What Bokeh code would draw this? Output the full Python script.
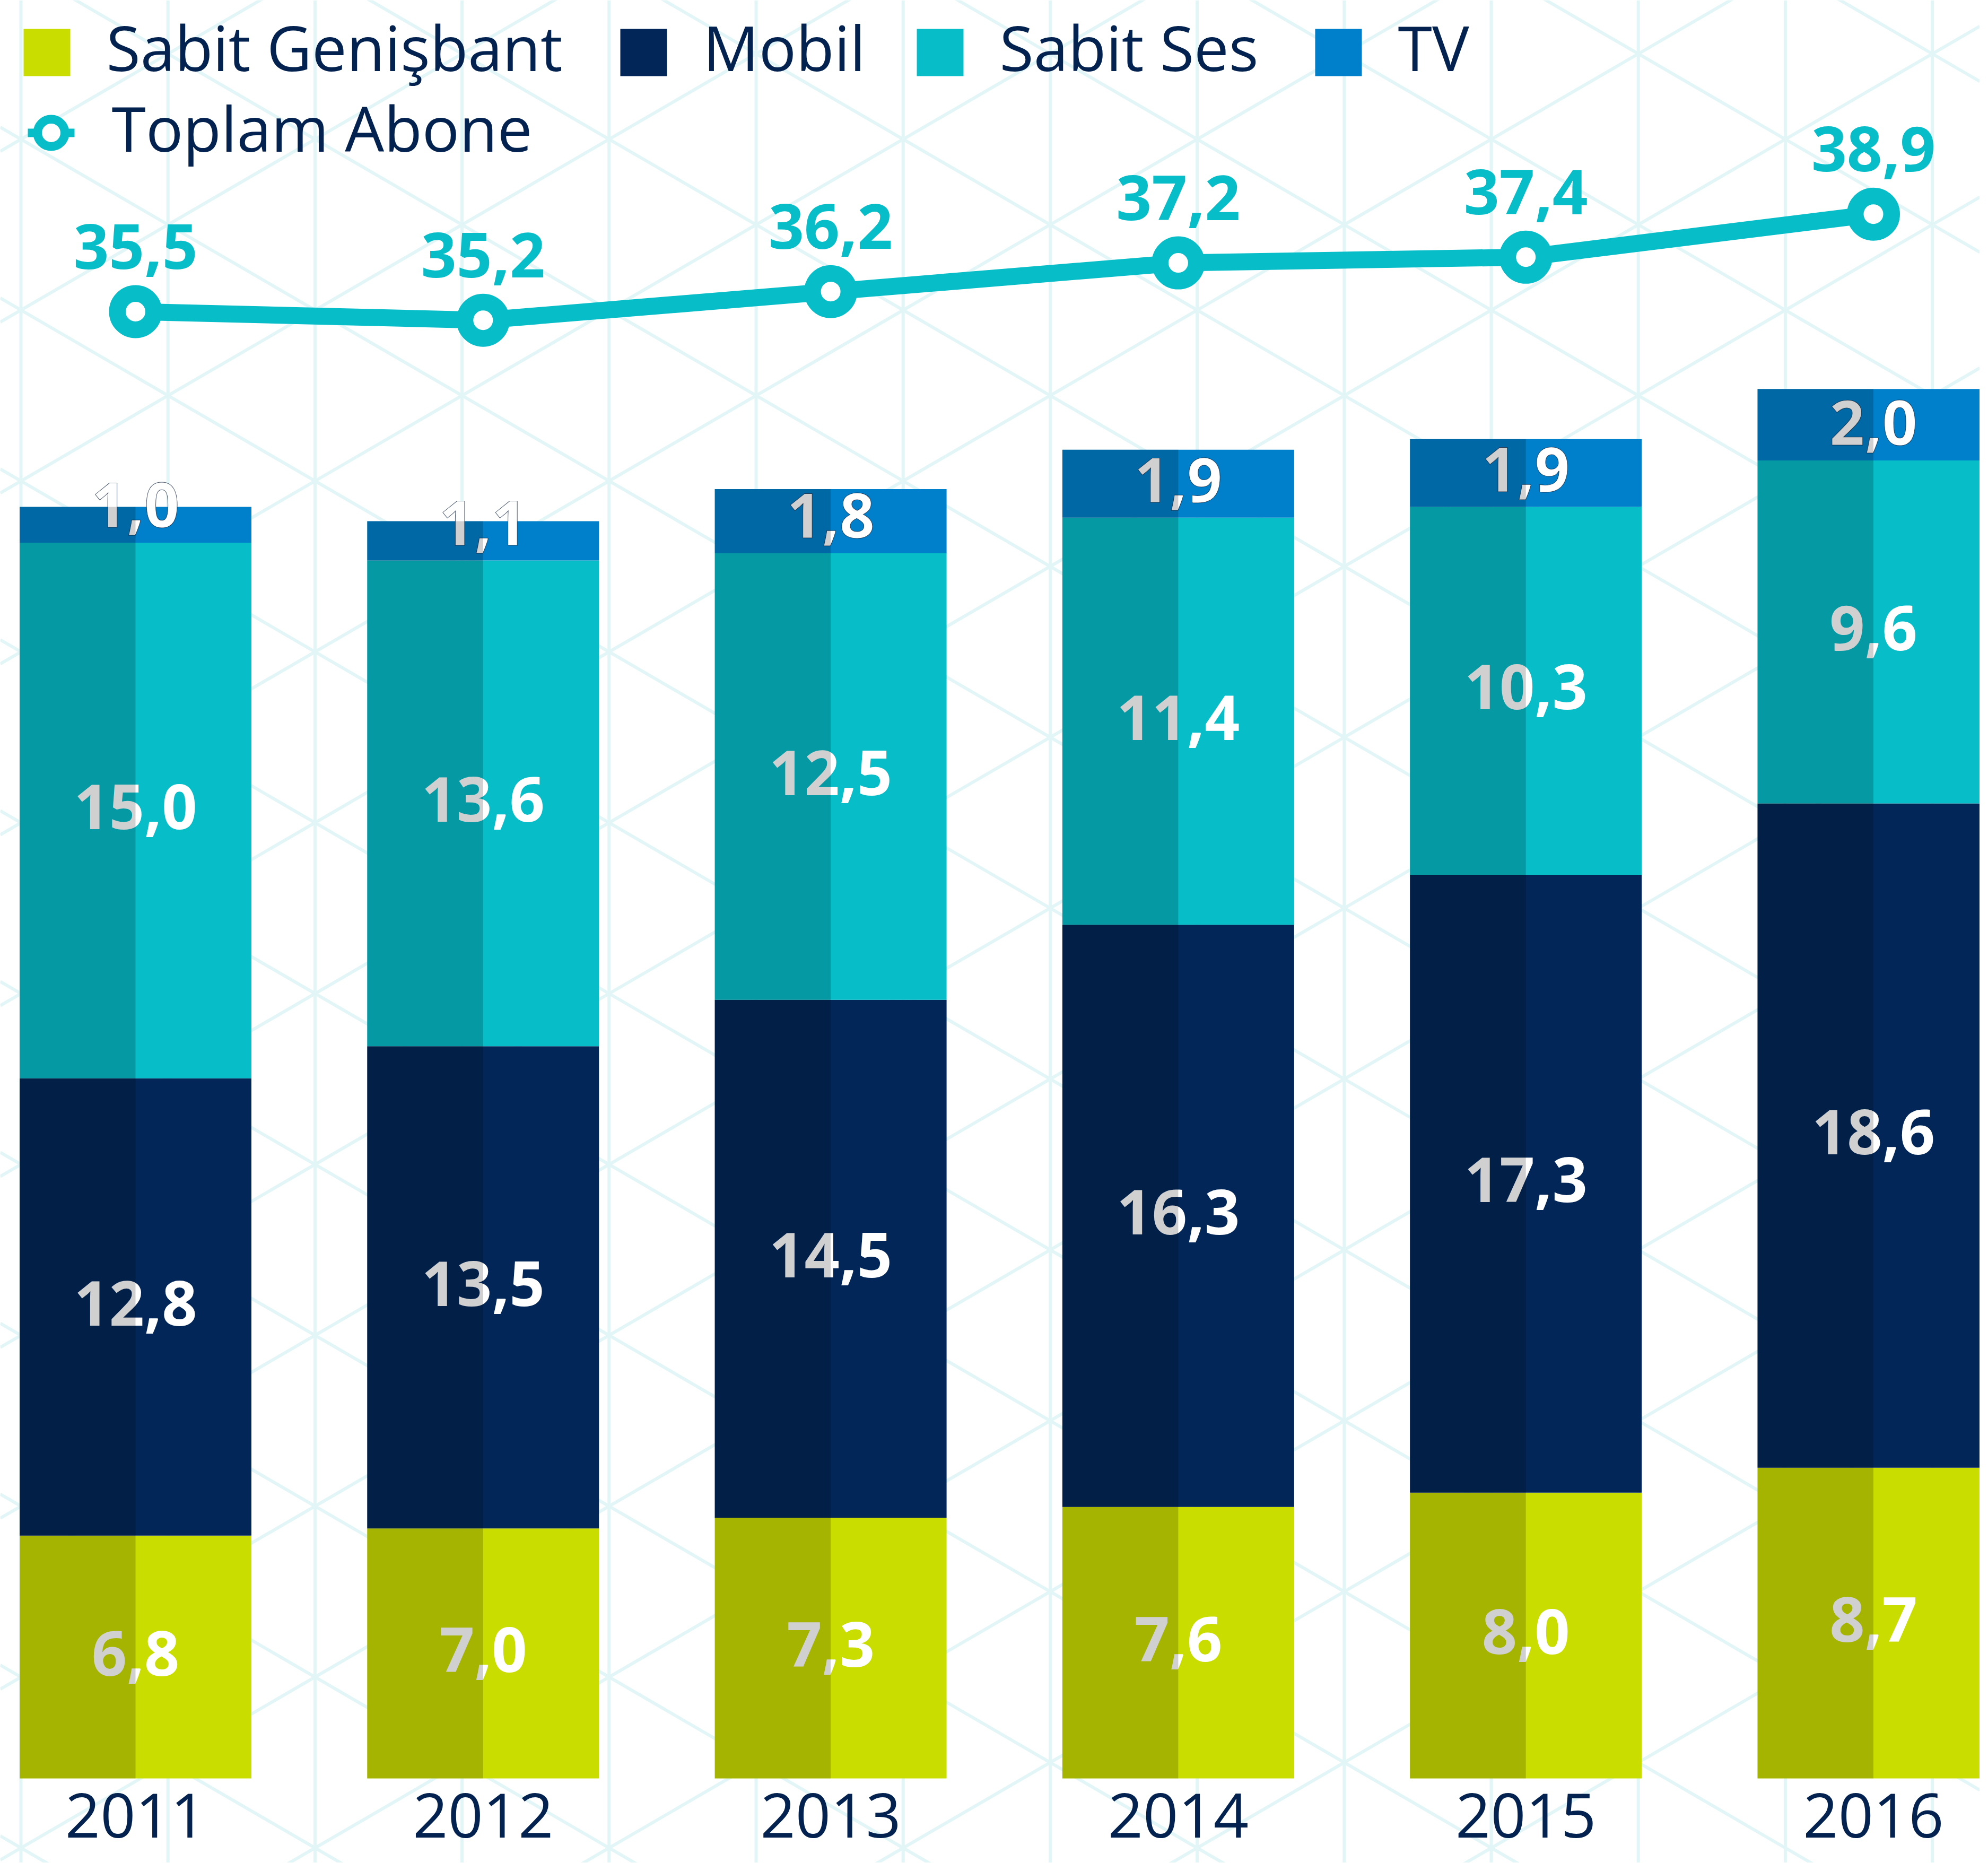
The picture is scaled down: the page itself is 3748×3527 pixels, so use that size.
import numpy as np
from bokeh.plotting import figure
from bokeh.models import Range1d, ColumnDataSource, Text
from bokeh.transform import dodge, stack
from bokeh.core.properties import value
from bokeh.embed import file_html
from bokeh.resources import INLINE

# ---------------- data ----------------
years = [2011, 2012, 2013, 2014, 2015, 2016]
year_labels = ["2011", "2012", "2013", "2014", "2015", "2016"]
sabit_genisbant = [6.8, 7.0, 7.3, 7.6, 8.0, 8.7]
mobil = [12.8, 13.5, 14.5, 16.3, 17.3, 18.6]
sabit_ses = [15.0, 13.6, 12.5, 11.4, 10.3, 9.6]
tv = [1.0, 1.1, 1.8, 1.9, 1.9, 2.0]
toplam_abone = [35.5, 35.2, 36.2, 37.2, 37.4, 38.9]

series_names = ["Sabit Genişbant", "Mobil", "Sabit Ses", "TV"]
line_name = "Toplam Abone"

# ---------------- styles ----------------
C_LIME = "#C9DD00"
C_NAVY = "#022658"
C_CYAN = "#07BDC8"
C_BLUE = "#0080CA"
C_TEXT = "#03224F"
C_GRID = "#E2F5F7"
FONT = "Open Sans"
series_colors = [C_LIME, C_NAVY, C_CYAN, C_BLUE]
TEXT_DY = -38   # correction for where the browser puts the alphabetic baseline
HAS_OUTLINE = "text_outline_color" in Text.properties()


def fmt(v):
    return f"{v:.1f}".replace(".", ",")


# ---------------- layout (page pixels) ----------------
W, H = 3732, 3511
OX, OY = 8, 8                 # page margin
BAR_PX0, BAR_STEP = 263.0, 655.3
BAR_W = 437.0 / BAR_STEP      # bar width in x units
BASE_PX, BAR_UNIT = 3360.0, 67.33
LINE_PX0, LINE_UNIT = 595.0, 54.06

x0 = years[0] + (OX - BAR_PX0) / BAR_STEP
x1 = years[0] + (OX + W - BAR_PX0) / BAR_STEP
y0 = (BASE_PX - (OY + H)) / BAR_UNIT
y1 = (BASE_PX - OY) / BAR_UNIT
l0 = toplam_abone[0] - ((OY + H) - LINE_PX0) / LINE_UNIT
l1 = toplam_abone[0] + (LINE_PX0 - OY) / LINE_UNIT

p = figure(width=W, height=H, x_range=Range1d(x0, x1), y_range=Range1d(y0, y1),
           output_backend="svg", toolbar_location=None, min_border=0,
           x_axis_location=None, y_axis_location=None)
p.grid.visible = False
p.outline_line_color = None
p.background_fill_color = "white"
p.border_fill_color = "white"
p.extra_x_ranges = {"px": Range1d(OX, OX + W)}
p.extra_y_ranges = {"py": Range1d(OY + H, OY), "line": Range1d(l0, l1)}

# ---------------- background lattice ----------------
GX0, GSTEP, GY0 = 47.0, 277.2, 270.0
GPER = 322.1
slope = (GPER / 2) / GSTEP
vx = [GX0 + GSTEP * k for k in range(0, 14)]
p.segment(x0=vx, y0=[OY] * len(vx), x1=vx, y1=[OY + H] * len(vx),
          x_range_name="px", y_range_name="py", line_color=C_GRID, line_width=6)
dx0, dx1 = OX, OX + W
sx0, sy0, sx1, sy1 = [], [], [], []
for m in range(-12, 16):
    c = GY0 + GPER * m
    for s in (1, -1):
        sx0.append(dx0); sy0.append(c + s * slope * (dx0 - GX0))
        sx1.append(dx1); sy1.append(c + s * slope * (dx1 - GX0))
p.segment(x0=sx0, y0=sy0, x1=sx1, y1=sy1, x_range_name="px", y_range_name="py",
          line_color=C_GRID, line_width=6)

# ---------------- bars ----------------
keys = ["sg", "mobil", "ses", "tv"]
src = ColumnDataSource(dict(
    year=years, year_label=year_labels,
    sg=sabit_genisbant, mobil=mobil, ses=sabit_ses, tv=tv,
    toplam=toplam_abone, toplam_label=[fmt(v) for v in toplam_abone],
    zero=[0] * len(years),
))
p.vbar_stack(keys, x="year", width=BAR_W, fill_color=series_colors,
             line_color=None, source=src)

# segment labels (TV labels sit on the bottom of their thin segment, with a dark halo)
label_style = dict(text_font=value(FONT), text_font_style="bold",
                   text_font_size="116px", text_color="white",
                   text_align="center", text_baseline="alphabetic")
cum = np.zeros(len(years))
all_series = [sabit_genisbant, mobil, sabit_ses, tv]
for i, arr in enumerate(all_series):
    a = np.array(arr)
    extra = {}
    if i == len(all_series) - 1:
        ypos, dy = cum, -33
        if HAS_OUTLINE:
            extra = dict(text_outline_color="rgba(5, 25, 55, 0.75)")
    else:
        ypos, dy = cum + a / 2, 31
    cum = cum + a
    p.text(x=years, y=ypos.tolist(), text=[fmt(v) for v in arr],
           y_offset=dy + TEXT_DY, **label_style, **extra)

# darker left half (drawn over labels as in the original)
p.vbar(x=dodge("year", -BAR_W / 4), width=BAR_W / 2, top=stack(*keys), bottom=0,
       source=src, fill_color="black", fill_alpha=0.184, line_color=None)

# ---------------- total line ----------------
p.line(x="year", y="toplam", source=src, y_range_name="line",
       line_color=C_CYAN, line_width=32, line_join="round")
p.scatter(x="year", y="toplam", source=src, y_range_name="line", size=68.5,
          fill_color="white", line_color=C_CYAN, line_width=31.5)
p.text(x="year", y="toplam", text="toplam_label", source=src, y_range_name="line",
       text_font=value(FONT), text_font_style="bold", text_font_size="117px",
       text_color=C_CYAN, text_align="center", text_baseline="alphabetic",
       y_offset=-85 + TEXT_DY)

# ---------------- year labels ----------------
p.text(x="year", y="zero", text="year_label", source=src,
       text_font=value(FONT), text_font_size="116px", text_color=C_TEXT,
       text_align="center", text_baseline="alphabetic", y_offset=108 + TEXT_DY)

# ---------------- legend (drawn in page pixels) ----------------
LEG_DY = 27
SW_L = [52, 1177, 1736, 2487]
SW_SIZE = 88
SW_TOP, SW_BOT = 35 + LEG_DY, 124 + LEG_DY
ROW1_BASE, ROW2_BASE = 107 + LEG_DY, 259 + LEG_DY
TXT_GAP = 68
p.quad(left=SW_L, right=[v + SW_SIZE for v in SW_L], top=[SW_TOP] * 4,
       bottom=[SW_BOT] * 4, fill_color=series_colors, line_color=None,
       x_range_name="px", y_range_name="py")
p.text(x=[v + SW_SIZE + TXT_GAP for v in SW_L], y=[ROW1_BASE] * 4, text=series_names,
       x_range_name="px", y_range_name="py", text_font=value(FONT),
       text_font_size="117px", text_color=C_TEXT, text_align="left",
       text_baseline="alphabetic", y_offset=TEXT_DY)
MK_X, MK_Y = 104, 231 + LEG_DY
p.segment(x0=[MK_X - 44], y0=[MK_Y], x1=[MK_X + 44], y1=[MK_Y],
          x_range_name="px", y_range_name="py", line_color=C_CYAN, line_width=16)
p.scatter(x=[MK_X], y=[MK_Y], size=51.5, fill_color="white", line_color=C_CYAN,
          line_width=16.5, x_range_name="px", y_range_name="py")
p.text(x=[218], y=[ROW2_BASE], text=[line_name], x_range_name="px", y_range_name="py",
       text_font=value(FONT), text_font_size="117px", text_color=C_TEXT,
       text_align="left", text_baseline="alphabetic", y_offset=TEXT_DY)

open("out.html", "w").write(file_html(p, INLINE))
